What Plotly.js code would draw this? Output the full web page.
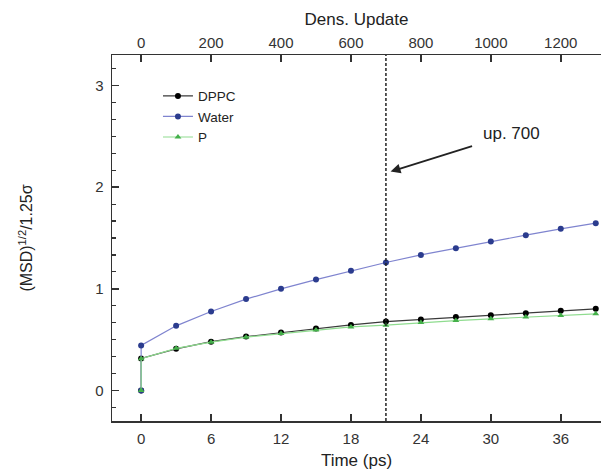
<!DOCTYPE html>
<html>
<head>
<meta charset="utf-8">
<script src="https://cdn.plot.ly/plotly-3.0.1.min.js"></script>
<style>html,body{margin:0;padding:0;background:#fff;}#chart{width:601px;height:472px;}</style>
</head>
<body>
<div id="chart"></div>
<script>
// Time (ps) for each sample; first sample is the origin
const timePs = [0, 0, 3, 6, 9, 12, 15, 18, 21, 24, 27, 30, 33, 36, 39];
const dppc  = [0, 0.315, 0.41, 0.48, 0.53, 0.57, 0.61, 0.645, 0.678, 0.698, 0.722, 0.741, 0.761, 0.784, 0.803];
const water = [0, 0.443, 0.636, 0.777, 0.899, 1.0, 1.091, 1.177, 1.259, 1.334, 1.40, 1.466, 1.528, 1.59, 1.646];
const pHead = [0, 0.312, 0.415, 0.475, 0.525, 0.56, 0.595, 0.625, 0.643, 0.669, 0.688, 0.705, 0.722, 0.738, 0.754];
const bottomTicks = [0, 6, 12, 18, 24, 30, 36];
const topTicks = [0, 200, 400, 600, 800, 1000, 1200];
const yTicks = [0, 1, 2, 3];
const markerUpdate = 700;      // density update marked by dashed line
const psPerUpdate = 3 / 100;   // 100 updates = 3 ps
const annText = 'up. 700';

const xRange = [-2.5, 39.45];
const topRange = xRange.map(v => v / psPerUpdate);
const updates = timePs.map(t => t / psPerUpdate);
const font = 'Liberation Sans, Arial, sans-serif';

const traces = [
  {x: timePs, y: dppc, name: 'DPPC', mode: 'lines+markers',
   line: {color: '#3a3a3a', width: 1.2}, marker: {color: '#000', size: 6, symbol: 'circle'}},
  {x: timePs, y: water, name: 'Water', mode: 'lines+markers',
   line: {color: '#7f84cf', width: 1.2}, marker: {color: '#2b3c8e', size: 6, symbol: 'circle'}},
  {x: timePs, y: pHead, name: 'P', mode: 'lines+markers',
   line: {color: '#8fdc8f', width: 1.2}, marker: {color: '#44b04a', size: 6, symbol: 'triangle-up'}},
  // same samples against the density-update scale (top axis); invisible, only anchors the axis
  {x: updates, y: water, xaxis: 'x2', yaxis: 'y', mode: 'markers', showlegend: false,
   hoverinfo: 'skip', marker: {opacity: 0, size: 1}}
];

const axCommon = {
  showline: true, linecolor: '#333', linewidth: 1.5, ticks: 'inside', ticklen: 7,
  tickwidth: 1.5, tickcolor: '#333', showgrid: false, zeroline: false,
  tickfont: {family: font, size: 15, color: '#333'}
};

const layout = {
  width: 601, height: 472,
  margin: {l: 112, r: 0, t: 55, b: 51},
  paper_bgcolor: '#fff', plot_bgcolor: '#fff',
  showlegend: true,
  legend: {x: 0.094, y: 0.93, xanchor: 'left', yanchor: 'top',
           font: {family: font, size: 13.5, color: '#222'}, bgcolor: 'rgba(0,0,0,0)', tracegroupgap: 0},
  xaxis: Object.assign({}, axCommon, {
    range: xRange, tickvals: bottomTicks, ticklabelstandoff: 3,
    title: {text: 'Time (ps)', font: {family: font, size: 17, color: '#222'}, standoff: 8}
  }),
  xaxis2: Object.assign({}, axCommon, {
    overlaying: 'x', side: 'top', anchor: 'y', range: topRange, tickvals: topTicks,
    title: {text: 'Dens. Update', font: {family: font, size: 17, color: '#222'}, standoff: 3}
  }),
  yaxis: Object.assign({}, axCommon, {
    range: [-0.3, 3.3], tickvals: yTicks, ticklabelstandoff: 4,
    minor: {dtick: 1/6, tick0: 0, ticks: 'inside', ticklen: 4, tickwidth: 1.2, tickcolor: '#333'},
    title: {text: '(MSD)<sup>1/2</sup>/1.25σ', font: {family: font, size: 16, color: '#222'}, standoff: 58}
  }),
  shapes: [{type: 'line', xref: 'x', yref: 'paper', x0: markerUpdate * psPerUpdate, x1: markerUpdate * psPerUpdate,
            y0: 0, y1: 1, line: {color: '#222', width: 1.5, dash: '3px,2px'}}],
  annotations: [
    {x: 21.4, y: 2.153, xref: 'x', yref: 'y', ax: 121, ay: -38, axref: 'pixel', ayref: 'pixel',
     text: annText, font: {family: font, size: 17, color: '#222'},
     showarrow: true, arrowhead: 2, arrowsize: 1.1, arrowwidth: 1.8, arrowcolor: '#222', startstandoff: 10}
  ]
};

Plotly.newPlot('chart', traces, layout, {staticPlot: true, displayModeBar: false});
</script>
</body>
</html>
